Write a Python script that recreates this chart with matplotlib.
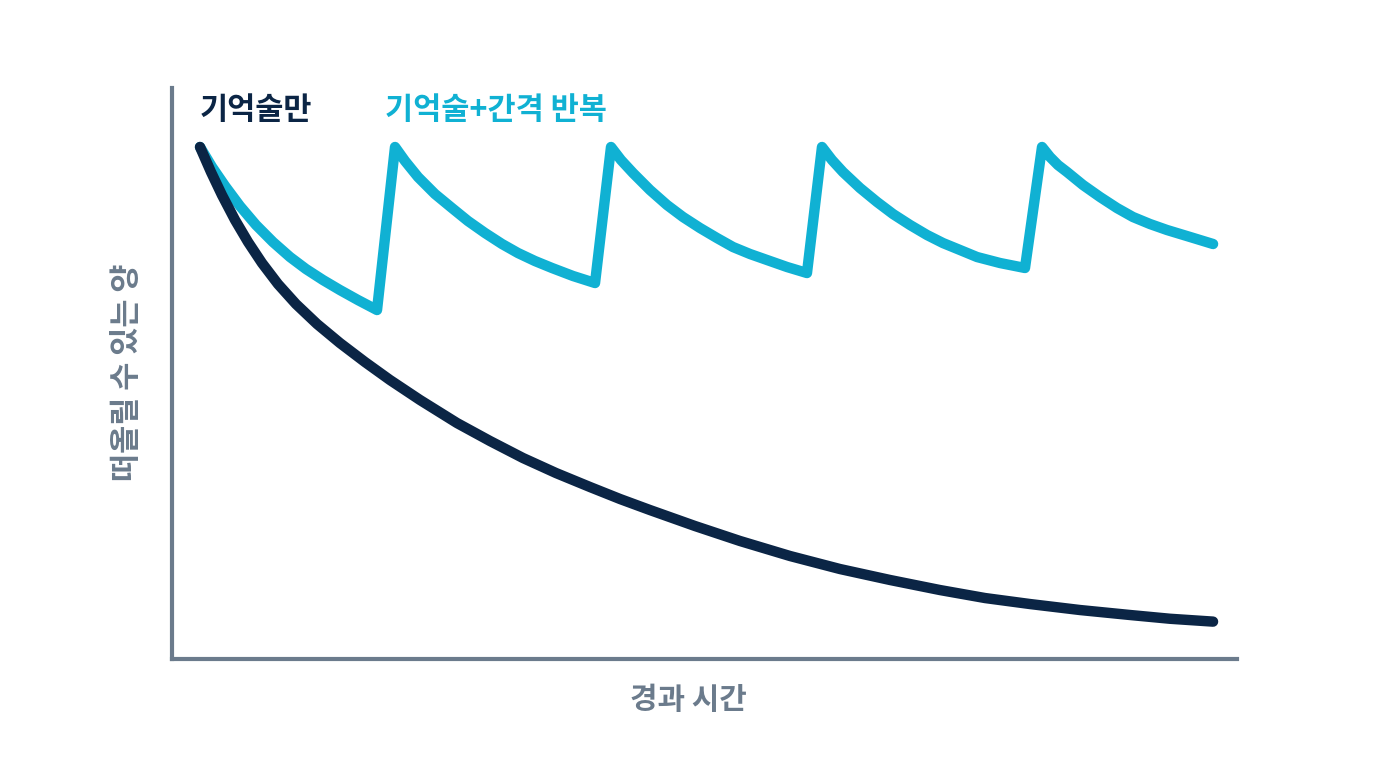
import matplotlib.pyplot as plt

plt.rcParams['font.family'] = ['Noto Sans CJK KR', 'DejaVu Sans']

# 기억술만 (망각 곡선)
t_only = [2.63, 3.66, 4.69, 5.92, 7.14, 8.45, 9.95, 11.64, 13.62, 15.77, 18.12,
          20.47, 23.29, 26.76, 29.86, 32.96, 36.06, 39.25, 42.07, 44.88, 49.11,
          53.33, 58.03, 62.72, 67.42, 72.11, 76.34, 80.56, 85.26, 89.95, 93.71, 97.75]
m_only = [89.67, 85.29, 81.26, 76.88, 73.03, 69.35, 65.67, 62.17, 58.67, 55.34, 52.01,
          48.86, 45.36, 41.33, 38.18, 35.20, 32.57, 30.12, 28.02, 26.09, 23.29,
          20.67, 18.04, 15.76, 13.84, 12.08, 10.68, 9.63, 8.58, 7.71, 7.05, 6.55]

# 기억술+간격 반복 (복습할 때마다 다시 올라감)
t_rep = [2.63, 3.76, 4.98, 6.38, 7.89, 9.48, 11.08, 12.58, 14.18, 15.77, 17.46, 19.25,
         20.94, 21.88, 23.10, 24.69, 26.29, 27.79, 29.39, 30.99, 32.49, 34.08, 35.68, 37.65, 39.72,
         41.22, 42.16, 43.29, 44.88, 46.48, 47.98, 49.58, 51.17, 52.68, 54.27, 55.87, 57.75, 59.62,
         61.03, 61.97, 63.00, 64.60, 66.20, 67.70, 69.30, 70.89, 72.39, 73.99, 75.59, 77.75, 80.09,
         81.69, 82.44, 83.19, 84.04, 85.54, 87.14, 88.73, 90.23, 91.83, 93.43, 95.59, 97.75]
m_rep = [89.67, 86.16, 82.84, 79.33, 76.01, 73.03, 70.40, 68.30, 66.37, 64.62, 62.87, 61.12,
         89.67, 87.22, 84.41, 81.44, 78.98, 76.71, 74.61, 72.68, 71.10, 69.70, 68.48, 67.08, 65.85,
         89.67, 87.39, 85.11, 82.14, 79.51, 77.41, 75.48, 73.73, 72.15, 70.93, 69.88, 68.65, 67.60,
         89.67, 87.39, 85.29, 82.49, 80.04, 77.93, 76.01, 74.26, 72.85, 71.63, 70.40, 69.35, 68.48,
         89.67, 87.92, 86.51, 85.29, 83.01, 80.91, 78.98, 77.41, 76.18, 75.13, 73.91, 72.68]

navy = '#0b2545'
cyan = '#10b1d3'
grey = '#6b7b8c'

fig = plt.figure(figsize=(13.76, 7.68), dpi=100)
ax = fig.add_axes([0.125, 0.1419, 0.774, 0.7435])

ax.plot(t_rep, m_rep, color=cyan, lw=7.5, solid_joinstyle='round',
        solid_capstyle='round', clip_on=False)
ax.plot(t_only, m_only, color=navy, lw=7.5, solid_joinstyle='round',
        solid_capstyle='round', clip_on=False)

ax.set_xlim(0, 100)
ax.set_ylim(0, 100)
ax.set_xticks([])
ax.set_yticks([])
for s in ['top', 'right']:
    ax.spines[s].set_visible(False)
for s in ['left', 'bottom']:
    ax.spines[s].set_color(grey)
    ax.spines[s].set_linewidth(3)

ax.text(0.026, 0.962, '기억술만', transform=ax.transAxes, color=navy,
        fontsize=22, fontweight='bold', va='center', ha='left')
ax.text(0.2, 0.962, '기억술+간격 반복', transform=ax.transAxes, color=cyan,
        fontsize=22, fontweight='bold', va='center', ha='left')

# 축 제목
ax.text(0.4845, -0.072, '경과 시간', transform=ax.transAxes, color=grey,
        fontsize=21.5, fontweight='bold', va='center', ha='center')
ax.text(-0.042, 0.503, '떠올릴 수 있는 양', transform=ax.transAxes, color=grey,
        fontsize=22, fontweight='bold', va='center', ha='center', rotation=90)

fig.savefig('out.png', dpi=100)
